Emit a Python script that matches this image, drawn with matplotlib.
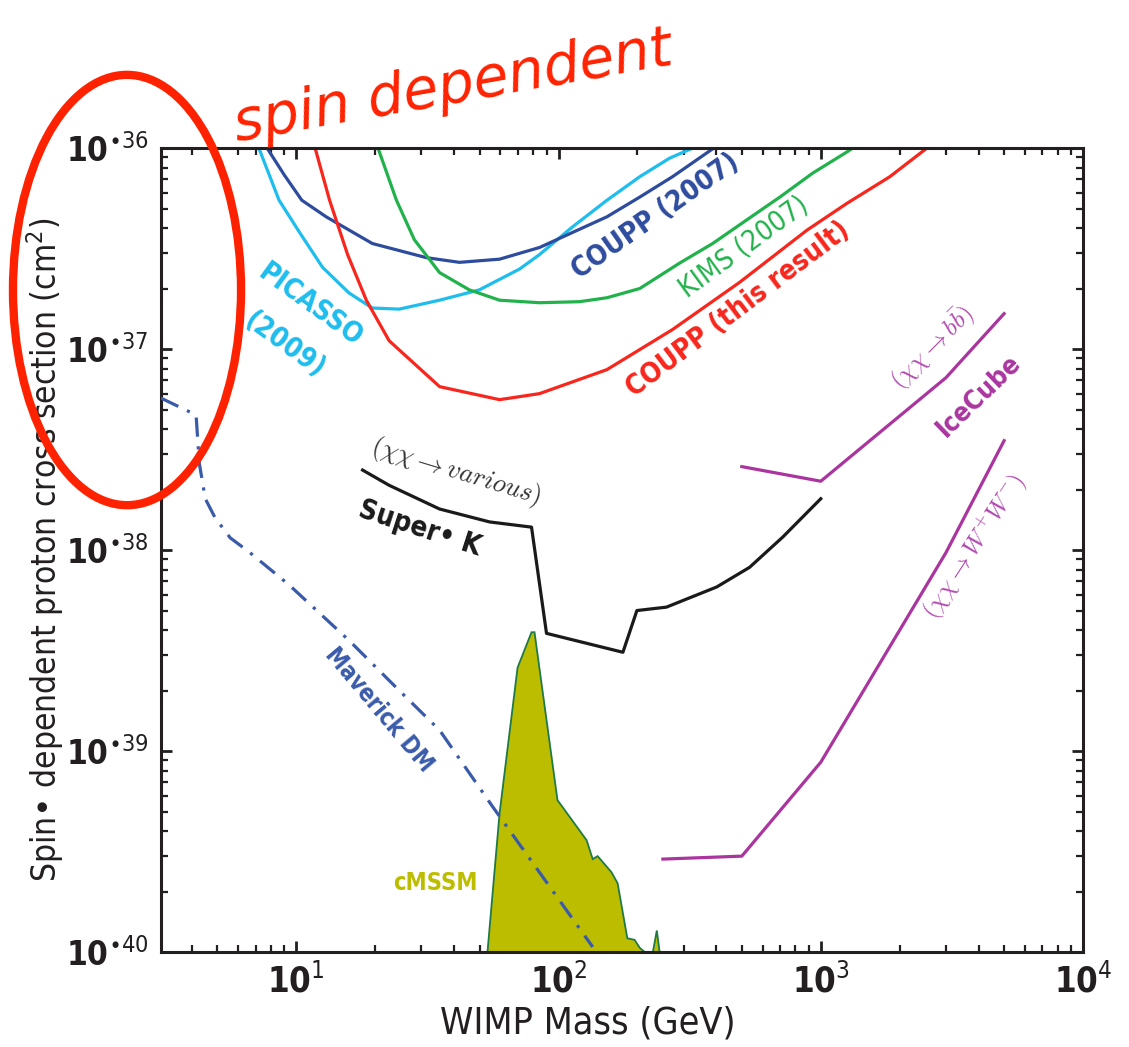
"""Spin-dependent WIMP-proton cross-section limits vs WIMP mass."""

import matplotlib

matplotlib.use("Agg")
import matplotlib.pyplot as plt
from matplotlib.patches import Ellipse

plt.rcParams["font.family"] = ["DejaVu Sans"]
plt.rcParams["font.stretch"] = "condensed"
plt.rcParams["mathtext.fontset"] = "dejavusans"

# --------------------------------------------------------------- data (GeV, cm^2)

picasso_mass = [7.2, 8.6, 10.3, 12.6, 15.9, 19.5, 24.7, 35.2, 49.9, 71.0, 84.6, 113, 153, 204, 265, 325]
picasso_sigma = [1.0e-36, 5.5e-37, 3.8e-37, 2.55e-37, 1.9e-37, 1.6e-37, 1.58e-37, 1.75e-37,
                 1.97e-37, 2.5e-37, 2.95e-37, 4.05e-37, 5.5e-37, 7.2e-37, 8.9e-37, 1.0e-36]

coupp07_mass = [7.74, 9.0, 10.5, 13.0, 19.5, 31.3, 41.9, 59.6, 84.6, 153, 204, 272, 391]
coupp07_sigma = [1.0e-36, 7.35e-37, 5.5e-37, 4.55e-37, 3.35e-37, 2.85e-37, 2.7e-37, 2.8e-37,
                 3.2e-37, 4.55e-37, 5.7e-37, 7.2e-37, 1.0e-36]

kims_mass = [20.5, 24.1, 28.2, 35.2, 45.7, 59.6, 84.6, 120, 153, 204, 290, 387, 522, 698, 931, 1256, 1324]
kims_sigma = [1.0e-36, 5.5e-37, 3.5e-37, 2.4e-37, 1.97e-37, 1.75e-37, 1.7e-37, 1.72e-37, 1.8e-37,
              2.0e-37, 2.68e-37, 3.35e-37, 4.39e-37, 5.7e-37, 7.5e-37, 9.55e-37, 1.0e-36]

coupp_mass = [11.8, 13.4, 15.7, 18.5, 22.6, 35.2, 59.6, 84.6, 153, 272, 491, 885, 1256, 1833, 2540]
coupp_sigma = [1.0e-36, 5.5e-37, 2.95e-37, 1.75e-37, 1.1e-37, 6.5e-38, 5.6e-38, 6.0e-38,
               7.9e-38, 1.25e-37, 2.15e-37, 3.9e-37, 5.3e-37, 7.2e-37, 1.0e-36]

superk_mass = [17.9, 22.6, 35.2, 54.6, 78.9, 90.0, 176, 199, 258, 401, 535, 716, 1000]
superk_sigma = [2.5e-38, 2.1e-38, 1.6e-38, 1.38e-38, 1.3e-38, 3.85e-39, 3.1e-39, 5.0e-39,
                5.2e-39, 6.55e-39, 8.2e-39, 1.16e-38, 1.8e-38]

icecube_bb_mass = [500, 1000, 3000, 5000]
icecube_bb_sigma = [2.6e-38, 2.2e-38, 7.2e-38, 1.5e-37]

icecube_ww_mass = [250, 500, 1000, 3000, 5000]
icecube_ww_sigma = [2.9e-40, 3.0e-40, 8.8e-40, 9.7e-39, 3.5e-38]

maverick_mass = [3.05, 4.15, 4.27, 4.5, 4.9, 5.6, 6.6, 9.4, 15.9, 24.7, 35.2, 56.0, 135]
maverick_sigma = [5.7e-38, 4.7e-38, 2.7e-38, 1.8e-38, 1.45e-38, 1.15e-38, 9.8e-39, 6.7e-39,
                  3.55e-39, 2.0e-39, 1.27e-39, 5.3e-40, 1.06e-40]

cmssm_mass = [53.6, 59.6, 69.8, 78.9, 81.0, 99.1, 128, 135, 141, 159, 168, 183, 195, 204, 213]
cmssm_sigma = [1.0e-40, 4.9e-40, 2.6e-39, 3.9e-39, 3.9e-39, 5.7e-40, 3.6e-40, 2.9e-40, 3.0e-40,
               2.5e-40, 2.2e-40, 1.17e-40, 1.15e-40, 1.05e-40, 1.0e-40]
cmssm_spike_mass = [229, 237, 243]
cmssm_spike_sigma = [1.0e-40, 1.28e-40, 1.0e-40]

x_ticks = [1e1, 1e2, 1e3, 1e4]
x_ticklabels = [r"$\mathbf{10}^{1}$", r"$\mathbf{10}^{2}$", r"$\mathbf{10}^{3}$", r"$\mathbf{10}^{4}$"]
y_ticks = [1e-40, 1e-39, 1e-38, 1e-37, 1e-36]
y_ticklabels = [r"$\mathbf{10}^{\bullet 40}$", r"$\mathbf{10}^{\bullet 39}$", r"$\mathbf{10}^{\bullet 38}$",
                r"$\mathbf{10}^{\bullet 37}$", r"$\mathbf{10}^{\bullet 36}$"]

# --------------------------------------------------------------- colours

CYAN = "#1DBDEE"
DARK_BLUE = "#2E4C9E"
GREEN = "#22B24C"
RED = "#F8261C"
PURPLE = "#AA359F"
MAVERICK = "#3A5BAA"
OLIVE = "#BDBD00"
MARK_RED = "#FF2200"

# --------------------------------------------------------------- figure

fig = plt.figure(figsize=(11.29, 10.47), dpi=100)
ax = fig.add_axes([0.1426, 0.0907, 0.8167, 0.7679])
ax.set_xscale("log")
ax.set_yscale("log")
ax.set_xlim(3.05, 1e4)
ax.set_ylim(1e-40, 1e-36)

lw = 2.3
ax.fill(cmssm_mass, cmssm_sigma, facecolor=OLIVE, edgecolor="#1E7A46", lw=1.3, zorder=2)
ax.fill(cmssm_spike_mass, cmssm_spike_sigma, facecolor=OLIVE, edgecolor="#1E7A46", lw=1.3, zorder=2)
ax.plot(maverick_mass, maverick_sigma, color=MAVERICK, lw=2.3, ls=(0, (6, 3, 1, 3)), zorder=3)
ax.plot(picasso_mass, picasso_sigma, color=CYAN, lw=lw)
ax.plot(coupp07_mass, coupp07_sigma, color=DARK_BLUE, lw=lw)
ax.plot(kims_mass, kims_sigma, color=GREEN, lw=lw)
ax.plot(coupp_mass, coupp_sigma, color=RED, lw=lw)
ax.plot(superk_mass, superk_sigma, color="#1a1a1a", lw=lw)
ax.plot(icecube_bb_mass, icecube_bb_sigma, color=PURPLE, lw=lw)
ax.plot(icecube_ww_mass, icecube_ww_sigma, color=PURPLE, lw=lw)

# axes styling
for sp in ax.spines.values():
    sp.set_linewidth(2.2)
    sp.set_color("#231f20")
ax.tick_params(which="both", direction="in", top=True, right=True, color="#231f20")
ax.tick_params(which="major", length=8, width=2)
ax.tick_params(which="minor", length=5, width=1.6)
ax.tick_params(axis="x", which="major", pad=8, labelsize=25)
ax.tick_params(axis="y", which="major", pad=9, labelsize=24)
ax.set_xticks(x_ticks)
ax.set_xticklabels(x_ticklabels)
ax.set_yticks(y_ticks)
ax.set_yticklabels(y_ticklabels)
for lab in ax.get_xticklabels() + ax.get_yticklabels():
    lab.set_color("#231f20")

ax.set_xlabel("WIMP Mass (GeV)", fontsize=27, color="#231f20")
ax.xaxis.set_label_coords(0.463, -0.066)
ax.set_ylabel(r"Spin• dependent proton cross section (cm$^{2}$)", fontsize=24, color="#231f20")
ax.yaxis.set_label_coords(-0.103, 0.5)

# --------------------------------------------------------------- annotations

def label(x, y, s, color, size, rot, weight="bold", **kw):
    ax.text(x, y, s, color=color, fontsize=size, rotation=rot, weight=weight,
            ha="center", va="center", rotation_mode="anchor", transform=ax.transAxes, **kw)


label(0.1616, 0.805, "PICASSO", CYAN, 20, -36)
label(0.1345, 0.755, "(2009)", CYAN, 20, -36)
label(0.536, 0.915, "COUPP (2007)", DARK_BLUE, 20, 35)
label(0.632, 0.877, "KIMS (2007)", GREEN, 20, 36, weight="normal")
label(0.626, 0.799, "COUPP (this result)", RED, 20, 37)
label(0.281, 0.527, "Super• K", "#1a1a1a", 20, -18)
label(0.887, 0.692, "IceCube", PURPLE, 19, 44)
label(0.236, 0.301, "Maverick DM", MAVERICK, 17, -50)
label(0.298, 0.086, "cMSSM", OLIVE, 17, 0)

label(0.320, 0.597, r"$(\chi\chi \rightarrow various)$", "#333333", 19, -17,
      weight="normal", math_fontfamily="cm")
label(0.837, 0.752, r"$(\chi\chi \rightarrow b\bar{b})$", "#B04AAE", 18, 45,
      weight="normal", math_fontfamily="cm")
label(0.883, 0.504, r"$(\chi\chi \rightarrow W^{+}W^{-})$", "#B04AAE", 18, 57,
      weight="normal", math_fontfamily="cm")

# hand-drawn highlight
fig.text(0.401, 0.917, "spin dependent", color=MARK_RED, fontsize=41, rotation=10,
         style="italic", stretch="normal", ha="center", va="center")
fig.add_artist(Ellipse((0.1125, 0.723), 0.202, 0.411, transform=fig.transFigure,
                       fill=False, ec=MARK_RED, lw=6))

fig.savefig("out.png", dpi=100)
plt.close(fig)
